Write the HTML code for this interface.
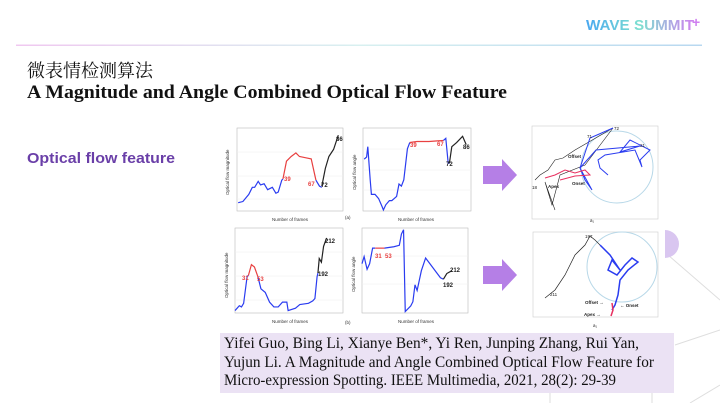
<!DOCTYPE html>
<html><head><meta charset="utf-8"><style>
html,body{margin:0;padding:0;background:#fff;}
svg{display:block}
</style></head><body>
<svg width="720" height="403" viewBox="0 0 720 403" xmlns="http://www.w3.org/2000/svg">
<defs>
<linearGradient id="hl" x1="0" x2="1"><stop offset="0" stop-color="#f0c8f0"/><stop offset="0.5" stop-color="#d8f0f0"/><stop offset="1" stop-color="#b8d8f0"/></linearGradient>
<linearGradient id="lg" x1="0" x2="1"><stop offset="0" stop-color="#4aa8f0"/><stop offset="0.5" stop-color="#7ee0d0"/><stop offset="1" stop-color="#d080f0"/></linearGradient>
</defs>
<rect width="720" height="403" fill="#fff"/>
<!-- logo -->
<text x="586" y="30" font-family="Liberation Sans, sans-serif" font-size="15" font-weight="bold" fill="url(#lg)" textLength="108" lengthAdjust="spacingAndGlyphs">WAVE SUMMIT</text>
<text x="692" y="27" font-family="Liberation Sans, sans-serif" font-size="14" font-weight="bold" fill="#d080f0">+</text>
<rect x="16" y="44.5" width="686" height="1.5" fill="url(#hl)"/>
<!-- decorative lines -->
<g stroke="#dedede" stroke-width="1" fill="none">
<line x1="668" y1="255" x2="720" y2="300"/>
<line x1="720" y1="330" x2="675" y2="345"/>
<line x1="690" y1="403" x2="720" y2="385"/>
<line x1="550" y1="340" x2="550" y2="403"/>
<line x1="652" y1="340" x2="652" y2="403"/>
</g>
<path d="M665 230 A14 14 0 0 1 665 258 Z" fill="#d9c6f0"/>
<!-- titles -->
<text x="27" y="77" font-family="Liberation Serif, 'Noto Serif CJK SC', serif" font-size="18" fill="#111">微表情检测算法</text>
<text x="27" y="98" font-family="Liberation Serif, serif" font-size="19" font-weight="bold" fill="#111" textLength="480" lengthAdjust="spacingAndGlyphs">A Magnitude and Angle Combined Optical Flow Feature</text>
<text x="27" y="163" font-family="Liberation Sans, sans-serif" font-size="15" font-weight="bold" fill="#6a3fa8" textLength="148" lengthAdjust="spacingAndGlyphs">Optical flow feature</text>

<!-- chart panels backgrounds -->
<g fill="#fff" stroke="#bbb" stroke-width="0.6">
<rect x="237" y="128" width="106" height="83"/>
<rect x="363" y="128" width="108" height="83"/>
<rect x="235" y="228" width="108" height="85"/>
<rect x="362" y="228" width="106" height="85"/>
</g>
<g stroke="#eee" stroke-width="0.5">
<line x1="237" y1="152" x2="343" y2="152"/><line x1="237" y1="176" x2="343" y2="176"/><line x1="237" y1="199" x2="343" y2="199"/>
<line x1="363" y1="149" x2="471" y2="149"/><line x1="363" y1="170" x2="471" y2="170"/><line x1="363" y1="190" x2="471" y2="190"/>
<line x1="235" y1="252" x2="343" y2="252"/><line x1="235" y1="276" x2="343" y2="276"/><line x1="235" y1="300" x2="343" y2="300"/>
<line x1="362" y1="256" x2="468" y2="256"/><line x1="362" y1="284" x2="468" y2="284"/>
</g>
<g font-family="Liberation Sans, sans-serif" font-size="4.5" fill="#333">
<text x="272" y="221">Number of frames</text>
<text x="398" y="221">Number of frames</text>
<text x="272" y="323">Number of frames</text>
<text x="398" y="323">Number of frames</text>
<text x="345" y="219">(a)</text>
<text x="345" y="324">(b)</text>
<text transform="translate(229,195) rotate(-90)">Optical flow magnitude</text>
<text transform="translate(356,190) rotate(-90)">Optical flow angle</text>
<text transform="translate(228,298) rotate(-90)">Optical flow magnitude</text>
<text transform="translate(355,292) rotate(-90)">Optical flow angle</text>
</g>
<!-- panel 1 -->
<g transform="translate(237,211) scale(1.178,-23.7)" fill="none" stroke-width="1.2">
<polyline vector-effect="non-scaling-stroke" stroke="#2a3cf0" points="1,0.35 5,0.4 10,0.7 13,1 15,1 18,1.25 20,1.1 23,1.15 26,0.9 30,1 33,0.75 35,0.8 38,1.3 39,1.35"/>
<polyline vector-effect="non-scaling-stroke" stroke="#e84040" points="39,1.35 42,2.1 46,2.3 50,2.45 53,2.3 58,2.25 63,2.2 67,1.3"/>
<polyline vector-effect="non-scaling-stroke" stroke="#2a3cf0" points="67,1.3 70,1.05 72,1"/>
<polyline vector-effect="non-scaling-stroke" stroke="#222" points="72,1.05 75,1.8 78,2.3 82,2.6 86,3.2"/>
</g>
<!-- panel 2 -->
<g transform="translate(363,211) scale(1.2,-20.75)" fill="none">
<polyline vector-effect="non-scaling-stroke" stroke-width="1.2" stroke="#2a3cf0" points="1,2.5 3,2.6 4,3.1 6,1.5 7,0.8 10,0.8 13,0.6 16,0.2 17,0.05 19,0.3 22,0.5 24,0.5 26,0.6 28,0.7 30,1.3 32,1.2 34,1.5 37,3 39,3.3"/>
<polyline vector-effect="non-scaling-stroke" stroke-width="1.2" stroke="#e84040" points="39,3.3 45,3.35 55,3.35 62,3.38 67,3.4"/>
<polyline vector-effect="non-scaling-stroke" stroke-width="1.2" stroke="#2a3cf0" points="67,3.4 69,3.5 71,2.3 72,2.3"/>
<polyline vector-effect="non-scaling-stroke" stroke-width="1.2" stroke="#222" points="72,2.3 74,3.1 78,3.3 83,3.6 86,3.2"/>
</g>
<!-- panel 3 -->
<g transform="translate(235,313) scale(0.432,-12.1)" fill="none">
<polyline vector-effect="non-scaling-stroke" stroke-width="1.2" stroke="#2a3cf0" points="0,0.2 10,0.6 15,0.5 20,0.8 28,3 31,3.1"/>
<polyline vector-effect="non-scaling-stroke" stroke-width="1.2" stroke="#e84040" points="31,3.1 38,4 45,3.8 53,3"/>
<polyline vector-effect="non-scaling-stroke" stroke-width="1.2" stroke="#2a3cf0" points="53,3 60,2 70,1.7 80,0.9 90,0.5 100,0.5 110,0.9 120,0.9 123,0.2 140,0.4 150,0.7 170,0.8 180,1 185,1.2 190,3 192,3.3"/>
<polyline vector-effect="non-scaling-stroke" stroke-width="1.2" stroke="#222" points="192,3.3 195,4.5 200,4.2 205,5.5 212,6.2"/>
</g>
<!-- panel 4 -->
<g transform="translate(362,313) scale(0.424,-14.1)" fill="none">
<polyline vector-effect="non-scaling-stroke" stroke-width="1.2" stroke="#2a3cf0" points="0,3.5 5,4 12,3.1 18,3.5 25,4.6 31,4.6"/>
<polyline vector-effect="non-scaling-stroke" stroke-width="1.2" stroke="#e84040" points="31,4.6 53,4.6"/>
<polyline vector-effect="non-scaling-stroke" stroke-width="1.2" stroke="#2a3cf0" points="53,4.6 75,4.7 88,4.8 93,5.6 98,5.9 102,0.1 115,0.5 120,0.8 125,2 130,1.6 140,3 150,3.9 160,3.5 175,2.9 185,2.5 192,2.4"/>
<polyline vector-effect="non-scaling-stroke" stroke-width="1.2" stroke="#222" points="192,2.4 200,2.8 212,3"/>
</g>
<g font-family="Liberation Sans, sans-serif" font-size="6" font-weight="bold">
<text x="284" y="181" fill="#e84040">39</text><text x="308" y="186" fill="#e84040">67</text>
<text x="321" y="187" fill="#222">72</text><text x="336" y="141" fill="#222">86</text>
<text x="410" y="147" fill="#e84040">39</text><text x="437" y="146" fill="#e84040">67</text>
<text x="446" y="166" fill="#222">72</text><text x="463" y="149" fill="#222">86</text>
<text x="242" y="280" fill="#e84040">31</text><text x="257" y="281" fill="#e84040">53</text>
<text x="318" y="276" fill="#222">192</text><text x="325" y="243" fill="#222">212</text>
<text x="375" y="258" fill="#e84040">31</text><text x="385" y="258" fill="#e84040">53</text>
<text x="443" y="287" fill="#222">192</text><text x="450" y="272" fill="#222">212</text>
</g>
<!-- arrows -->
<path d="M483 166 H502 V159 L517 175 L502 191 V184 H483 Z" fill="#b57fe6"/>
<path d="M483 266 H502 V259 L517 275 L502 291 V284 H483 Z" fill="#b57fe6"/>
<!-- scatter 1 -->
<rect x="532" y="126" width="126" height="93" fill="#fff" stroke="#ccc" stroke-width="0.6"/>
<circle cx="617" cy="167" r="36" fill="none" stroke="#b8d8e8" stroke-width="1"/>
<g fill="none" stroke-width="1">
<polyline stroke="#222" stroke-width="0.6" points="535,180 540,175 548,170 555,160 563,158 575,150 613,128 585,165 560,175 552,205 545,182 555,210"/>
<polyline stroke="#2a3cf0" points="613,128 590,138 586,150 580,168 585,180 592,190 580,168 596,150 640,146 620,152 630,140 650,150 640,160 642,167 635,150 605,155 598,160 600,168 608,175"/>
<polyline stroke="#e83060" points="545,178 555,175 565,170 575,173 585,170 590,175 575,176 560,180"/>
</g>
<g font-family="Liberation Sans, sans-serif" font-size="4.5" fill="#222">
<text x="568" y="158" font-weight="bold">Offset</text><text x="548" y="188" font-weight="bold">Apex</text><text x="572" y="185" font-weight="bold">Onset</text>
<text x="614" y="130">72</text><text x="587" y="138">71</text><text x="640" y="147">21</text><text x="532" y="189">18</text>
</g>
<!-- scatter 2 -->
<rect x="533" y="232" width="125" height="85" fill="#fff" stroke="#ccc" stroke-width="0.6"/>
<circle cx="622" cy="267" r="35" fill="none" stroke="#b8d8e8" stroke-width="1"/>
<g fill="none" stroke-width="1">
<polyline stroke="#222" stroke-width="0.7" points="545,298 555,290 565,275 575,255 585,245 590,236 595,240 600,245"/>
<polyline stroke="#2a3cf0" stroke-width="1.5" points="600,245 610,255 620,270 612,260 608,270 617,275 625,265 632,258 638,262 628,270 620,280 618,295 615,305 612,310"/>
<polyline stroke="#e83060" stroke-width="1.5" points="612,303 613,310 611,316"/>
</g>
<g font-family="Liberation Sans, sans-serif" font-size="4.5" fill="#222">
<text x="585" y="304" font-weight="bold">Offset →</text><text x="620" y="307" font-weight="bold">← Onset</text>
<text x="584" y="316" font-weight="bold">Apex →</text><text x="585" y="238">197</text><text x="550" y="296">211</text>
<text x="593" y="327">a₁</text><text x="590" y="222">a₁</text>
</g>
<!-- citation -->
<rect x="220" y="333" width="454" height="60" fill="#ebe2f4"/>
<g font-family="Liberation Serif, serif" font-size="16" fill="#111">
<text x="224" y="348" textLength="415" lengthAdjust="spacingAndGlyphs">Yifei Guo, Bing Li, Xianye Ben*, Yi Ren, Junping Zhang, Rui Yan,</text>
<text x="224" y="367" textLength="430" lengthAdjust="spacingAndGlyphs">Yujun Li. A Magnitude and Angle Combined Optical Flow Feature for</text>
<text x="224" y="385" textLength="392" lengthAdjust="spacingAndGlyphs">Micro-expression Spotting. IEEE Multimedia, 2021, 28(2): 29-39</text>
</g>
</svg>
</body></html>
